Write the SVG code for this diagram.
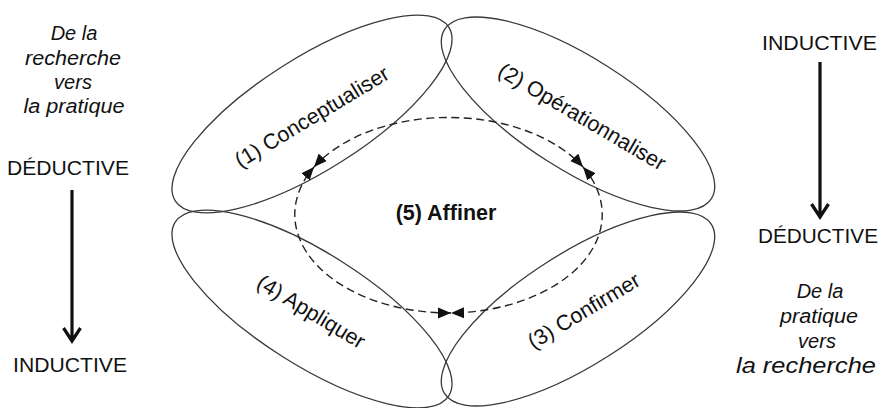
<svg xmlns="http://www.w3.org/2000/svg" width="880" height="408" viewBox="0 0 880 408">
  <style>
    text { font-family: "Liberation Sans", Arial, sans-serif; fill: #111; }
    .lbl { font-size: 21.5px; text-anchor: middle; }
    .bold { font-weight: bold; }
    .it { font-style: italic; font-size: 20px; text-anchor: middle; }
    .side { font-size: 20px; text-anchor: middle; }
    .ell { fill: none; stroke: #3a3a3a; stroke-width: 1.3; }
    .cycle { fill: none; stroke: #222; stroke-width: 1.4; stroke-dasharray: 8 4.5; marker-start: url(#tipS); marker-end: url(#tipE); }
    .arrow { fill: none; stroke: #111; stroke-width: 3.2; }
  </style>
  <defs>
    <marker id="tipE" markerUnits="userSpaceOnUse" markerWidth="14" markerHeight="12" refX="13" refY="6" orient="auto">
      <path d="M0,0.5 L13,6 L0,11.5 Z" fill="#111"/>
    </marker>
    <marker id="tipS" markerUnits="userSpaceOnUse" markerWidth="14" markerHeight="12" refX="13" refY="6" orient="auto-start-reverse">
      <path d="M0,0.5 L13,6 L0,11.5 Z" fill="#111"/>
    </marker>
  </defs>

  <g id="node-1">
    <ellipse class="ell" cx="312" cy="114" rx="162" ry="56" transform="rotate(-32.4 312 114)"/>
    <text class="lbl" transform="translate(312 117) rotate(-31)" x="0" y="7">(1) Conceptualiser</text>
  </g>
  <g id="node-2">
    <ellipse class="ell" cx="578" cy="114" rx="158" ry="56" transform="rotate(32.4 578 114)"/>
    <text class="lbl" transform="translate(582 117) rotate(30.5)" x="0" y="7">(2) Opérationnaliser</text>
  </g>
  <g id="node-3">
    <ellipse class="ell" cx="578" cy="309" rx="158" ry="56" transform="rotate(-32.4 578 309)"/>
    <text class="lbl" transform="translate(584 311) rotate(-31)" x="0" y="7">(3) Confirmer</text>
  </g>
  <g id="node-4">
    <ellipse class="ell" cx="312" cy="309" rx="162" ry="56" transform="rotate(32.4 312 309)"/>
    <text class="lbl" transform="translate(311 312) rotate(31)" x="0" y="7">(4) Appliquer</text>
  </g>
  <g id="node-5">
    <text class="lbl bold" x="446" y="220">(5) Affiner</text>
  </g>

  <g id="connectors">
    <path class="cycle" d="M314,167 A155,98.5 0 0 1 583,167"/>
    <path class="cycle" d="M583,167 A155,98.5 0 0 1 451,313"/>
    <path class="cycle" d="M451,313 A155,98.5 0 0 1 314,167"/>
    <path class="arrow" d="M72,190 V340 M63.5,328 L72,341 L80.5,328"/>
    <path class="arrow" d="M820,62 V215 M811.5,204 L820,217 L828.5,204"/>
  </g>

  <g id="left-labels">
    <text class="it" x="74" y="40">De la</text>
    <text class="it" x="73" y="65" textLength="96" lengthAdjust="spacingAndGlyphs">recherche</text>
    <text class="it" x="73" y="89">vers</text>
    <text class="it" x="74" y="113" textLength="101" lengthAdjust="spacingAndGlyphs">la pratique</text>
    <text class="side" x="68" y="175" textLength="122" lengthAdjust="spacingAndGlyphs">DÉDUCTIVE</text>
    <text class="side" x="70" y="372" textLength="114" lengthAdjust="spacingAndGlyphs">INDUCTIVE</text>
  </g>
  <g id="right-labels">
    <text class="side" x="819.5" y="50" textLength="115" lengthAdjust="spacingAndGlyphs">INDUCTIVE</text>
    <text class="side" x="818" y="243" textLength="120" lengthAdjust="spacingAndGlyphs">DÉDUCTIVE</text>
    <text class="it" x="820" y="298">De la</text>
    <text class="it" x="819" y="323" textLength="78" lengthAdjust="spacingAndGlyphs">pratique</text>
    <text class="it" x="817" y="348">vers</text>
    <text class="it" x="806" y="373" style="font-size:22px" textLength="140" lengthAdjust="spacingAndGlyphs">la recherche</text>
  </g>
</svg>
